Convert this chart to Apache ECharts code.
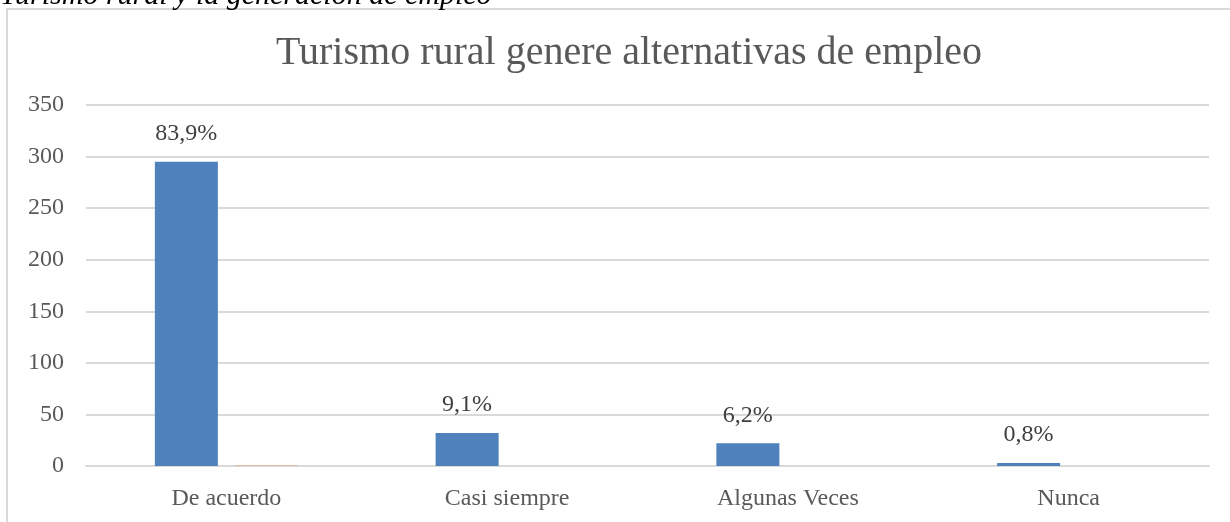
<!DOCTYPE html>
<html>
<head>
<meta charset="utf-8">
<script src="https://cdn.jsdelivr.net/npm/echarts@6/dist/echarts.min.js"></script>
<style>
  html, body { margin: 0; padding: 0; background: #fff; }
  #chart { width: 1230px; height: 522px; }
</style>
</head>
<body>
<div id="chart"></div>
<script>
const categories = ['De acuerdo', 'Casi siempre', 'Algunas Veces', 'Nunca']
const counts = [295, 32, 22, 3]
const shares = [0.839, 0.091, 0.062, 0.008]
const shareLabels = ['83,9%', '9,1%', '6,2%', '0,8%']
const yTicks = { min: 0, max: 350, interval: 50 }

const font = 'Liberation Serif'
const chart = echarts.init(document.getElementById('chart'))

const option = {
  animation: false,
  backgroundColor: '#fff',
  textStyle: { fontFamily: font },
  title: {
    text: 'Turismo rural genere alternativas de empleo',
    left: 271,
    top: 28,
    textStyle: { fontFamily: font, fontSize: 40, fontWeight: 'normal', color: '#595959' }
  },
  graphic: [
    {
      type: 'rect',
      shape: { x: 7, y: 9, width: 1240, height: 530 },
      style: { fill: 'none', stroke: '#d9d9d9', lineWidth: 2 },
      silent: true
    },
    {
      type: 'text',
      left: 0,
      top: -19,
      style: {
        text: 'Turismo rural y la generación de empleo',
        fontFamily: font,
        fontStyle: 'italic',
        fontSize: 30,
        fill: '#000'
      }
    }
  ],
  grid: { left: 86, right: 21, top: 105, bottom: 56 },
  xAxis: {
    type: 'category',
    data: categories,
    axisTick: { show: false },
    axisLine: { show: true, lineStyle: { color: '#d9d9d9', width: 2 } },
    axisLabel: { color: '#595959', fontSize: 24, fontFamily: font, margin: 21 }
  },
  yAxis: {
    type: 'value',
    min: yTicks.min,
    max: yTicks.max,
    interval: yTicks.interval,
    axisLine: { show: false },
    axisTick: { show: false },
    axisLabel: { color: '#595959', fontSize: 24, fontFamily: font, margin: 22 },
    splitLine: { lineStyle: { color: '#d9d9d9', width: 2 } }
  },
  series: [
    {
      name: 'Frecuencia',
      type: 'bar',
      data: counts,
      barWidth: 63,
      barGap: '27%',
      itemStyle: { color: '#4f81bd' },
      label: {
        show: true,
        position: 'top',
        distance: 16,
        fontSize: 24,
        fontFamily: font,
        color: '#404040',
        formatter: p => shareLabels[p.dataIndex]
      }
    },
    {
      name: 'Porcentaje',
      type: 'bar',
      data: shares,
      barWidth: 63,
      itemStyle: { color: '#ed7d31', opacity: 0.4 }
    }
  ]
}

chart.setOption(option)
</script>
</body>
</html>
